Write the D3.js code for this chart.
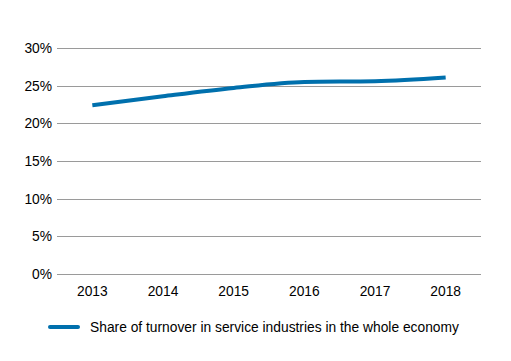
<!DOCTYPE html>
<html>
<head>
<meta charset="utf-8">
<script src="https://cdn.jsdelivr.net/npm/d3@7"></script>
<style>
  body { margin: 0; background: #fff; }
  text { font-family: "Liberation Sans", Arial, sans-serif; font-size: 13.8px; fill: #000; }
</style>
</head>
<body>
<svg id="chart" width="511" height="361"></svg>
<script>
var years = ["2013", "2014", "2015", "2016", "2017", "2018"];
var shareValues = [0.224, 0.236, 0.247, 0.255, 0.256, 0.261];
var yTicks = [0, 0.05, 0.10, 0.15, 0.20, 0.25, 0.30];
var seriesName = "Share of turnover in service industries in the whole economy";

var svg = d3.select("#chart");
var plotLeft = 57, plotRight = 481, plotTop = 48, plotBottom = 274;

var x = d3.scalePoint().domain(years).range([plotLeft, plotRight]).padding(0.5);
var y = d3.scaleLinear().domain([0, 0.30]).range([plotBottom, plotTop]);

// gridlines
svg.append("g").selectAll("line")
    .data(yTicks)
    .enter().append("line")
    .attr("x1", plotLeft).attr("x2", plotRight)
    .attr("y1", function(d){ return Math.round(y(d)) + 0.5 })
    .attr("y2", function(d){ return Math.round(y(d)) + 0.5 })
    .attr("stroke", "#9a9a9a")
    .attr("stroke-width", 1);

// y labels
svg.append("g").selectAll("text")
    .data(yTicks)
    .enter().append("text")
    .attr("x", 52)
    .attr("y", function(d){ return y(d) + 5 })
    .attr("text-anchor", "end")
    .text(function(d){ return d3.format(".0%")(d) });

// x labels
svg.append("g").selectAll("text")
    .data(years)
    .enter().append("text")
    .attr("x", function(d){ return x(d) })
    .attr("y", 296)
    .attr("text-anchor", "middle")
    .text(function(d){ return d });

// line
var line = d3.line()
    .x(function(d, i){ return x(years[i]) })
    .y(function(d){ return y(d) })
    .curve(d3.curveMonotoneX);

svg.append("path")
    .datum(shareValues)
    .attr("d", line)
    .attr("fill", "none")
    .attr("stroke", "#0070ad")
    .attr("stroke-width", 4)
    .attr("stroke-linecap", "butt");

// legend
svg.append("line")
    .attr("x1", 50).attr("x2", 78)
    .attr("y1", 327).attr("y2", 327)
    .attr("stroke", "#0070ad")
    .attr("stroke-width", 4)
    .attr("stroke-linecap", "round");

svg.append("text")
    .attr("x", 90)
    .attr("y", 332)
    .text(seriesName);
</script>
</body>
</html>
